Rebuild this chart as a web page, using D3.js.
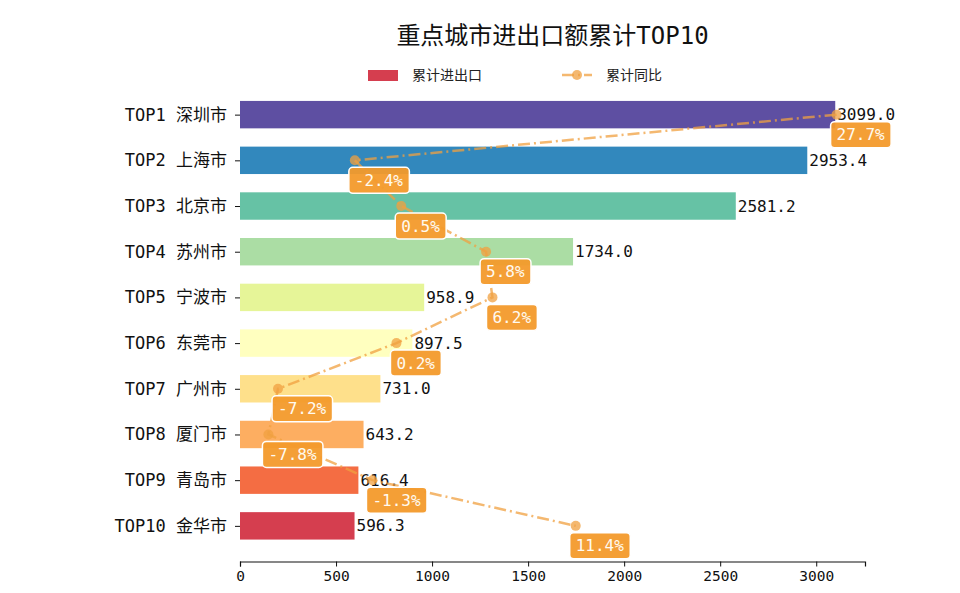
<!DOCTYPE html>
<html>
<head>
<meta charset="utf-8">
<script src="https://cdn.jsdelivr.net/npm/d3@7"></script>
<style>
  body { margin: 0; background: #fff; }
  text { font-family: 'DejaVu Sans Mono', 'Noto Sans CJK SC', sans-serif; }
</style>
</head>
<body>
<div id="chart"></div>
<script>
const ranks = ['TOP1', 'TOP2', 'TOP3', 'TOP4', 'TOP5', 'TOP6', 'TOP7', 'TOP8', 'TOP9', 'TOP10'];
const cities = ['深圳市', '上海市', '北京市', '苏州市', '宁波市', '东莞市', '广州市', '厦门市', '青岛市', '金华市'];
const totals = [3099.0, 2953.4, 2581.2, 1734.0, 958.9, 897.5, 731.0, 643.2, 616.4, 596.3];
const growth = [27.7, -2.4, 0.5, 5.8, 6.2, 0.2, -7.2, -7.8, -1.3, 11.4];
const barColors = ['#5e4fa2', '#3288bd', '#66c2a5', '#abdda4', '#e6f598', '#ffffbf', '#fee08b', '#fdae61', '#f46d43', '#d53e4f'];
const xTicks = [0, 500, 1000, 1500, 2000, 2500, 3000];

const width = 960, height = 593;
const plot = { left: 240, right: 865, top: 79, bottom: 561.5 };
const lineColor = '#f0a040';
const monoCjk = "'DejaVu Sans Mono', 'Noto Sans CJK SC', sans-serif";

const svg = d3.select('#chart').append('svg')
    .attr('width', width)
    .attr('height', height);

const idx = d3.range(ranks.length);

// primary x for bars, hidden twin x for the growth line
const x = d3.scaleLinear().domain([0, d3.max(totals) * 1.05]).range([plot.left, plot.right]);
const gMin = d3.min(growth), gMax = d3.max(growth), gPad = (gMax - gMin) * 0.05;
const x2 = d3.scaleLinear().domain([gMin - gPad, gMax + gPad]).range([plot.left, plot.right]);
const y = d3.scaleLinear().domain([-0.78, 9.78]).range([plot.top, plot.bottom]);
const barH = y(0.6) - y(0);

// title
svg.append('text')
    .attr('x', (plot.left + plot.right) / 2)
    .attr('y', 37)
    .attr('text-anchor', 'middle')
    .attr('dominant-baseline', 'middle')
    .attr('font-size', 24)
    .attr('fill', '#111')
    .text('重点城市进出口额累计TOP10');

// legend
const lg = svg.append('g');
lg.append('rect').attr('x', 368).attr('y', 70).attr('width', 30).attr('height', 11).attr('fill', '#d53e4f');
lg.append('text').attr('x', 412).attr('y', 76).attr('dominant-baseline', 'middle')
    .attr('font-size', 14).attr('fill', '#222').text('累计进出口');
lg.append('line').attr('x1', 562).attr('x2', 592).attr('y1', 75).attr('y2', 75)
    .attr('stroke', lineColor).attr('stroke-opacity', 0.75).attr('stroke-width', 2.5)
    .attr('stroke-dasharray', '12,4,2,4');
lg.append('circle').attr('cx', 577).attr('cy', 75).attr('r', 5)
    .attr('fill', lineColor).attr('fill-opacity', 0.75);
lg.append('text').attr('x', 606).attr('y', 76).attr('dominant-baseline', 'middle')
    .attr('font-size', 14).attr('fill', '#222').text('累计同比');

// bars
svg.append('g').selectAll('rect')
    .data(idx)
    .join('rect')
    .attr('x', x(0))
    .attr('y', i => y(i) - barH / 2)
    .attr('width', i => x(totals[i]) - x(0))
    .attr('height', barH)
    .attr('fill', i => barColors[i]);

// value labels
svg.append('g').selectAll('text')
    .data(idx)
    .join('text')
    .attr('x', i => x(totals[i]) + 2)
    .attr('y', i => y(i) + 1)
    .attr('dominant-baseline', 'middle')
    .attr('font-size', 16)
    .attr('fill', '#111')
    .text(i => totals[i].toFixed(1));

// axes
const xAxis = svg.append('g')
    .attr('transform', `translate(0,${plot.bottom})`)
    .call(d3.axisBottom(x).tickValues(xTicks).tickSize(5).tickPadding(4).tickFormat(d3.format('d')));
xAxis.select('.domain').attr('stroke', '#111').attr('stroke-width', 1.2);
xAxis.selectAll('.tick line').attr('stroke', '#111');
xAxis.selectAll('.tick text').attr('font-size', 14.5).attr('fill', '#111')
    .style('font-family', monoCjk);

const yAxis = svg.append('g')
    .attr('transform', `translate(${plot.left},0)`)
    .call(d3.axisLeft(y).tickValues(idx).tickSize(5).tickPadding(8).tickFormat(i => `${ranks[i]} ${cities[i]}`));
yAxis.select('.domain').remove();
yAxis.selectAll('.tick line').attr('stroke', '#111');
yAxis.selectAll('.tick text').attr('font-size', 17).attr('fill', '#111')
    .style('font-family', monoCjk);

// growth line
const line = d3.line().x(i => x2(growth[i])).y(i => y(i));
svg.append('path')
    .datum(idx)
    .attr('d', line)
    .attr('fill', 'none')
    .attr('stroke', lineColor)
    .attr('stroke-opacity', 0.75)
    .attr('stroke-width', 2.5)
    .attr('stroke-dasharray', '12,4,2,4');

svg.append('g').selectAll('circle')
    .data(idx)
    .join('circle')
    .attr('cx', i => x2(growth[i]))
    .attr('cy', i => y(i))
    .attr('r', 5)
    .attr('fill', lineColor)
    .attr('fill-opacity', 0.75);

// growth labels
const tags = svg.append('g').selectAll('g')
    .data(idx)
    .join('g')
    .attr('transform', i => `translate(${x2(growth[i])},${y(i) + 20})`);

tags.append('text')
    .attr('x', 0)
    .attr('y', 1)
    .attr('dominant-baseline', 'middle')
    .attr('font-size', 16)
    .attr('fill', '#fffaf0')
    .text(i => growth[i].toFixed(1) + '%');

tags.each(function() {
    const g = d3.select(this);
    const bb = g.select('text').node().getBBox();
    g.insert('rect', 'text')
        .attr('x', bb.x - 6)
        .attr('y', -13)
        .attr('width', bb.width + 12)
        .attr('height', 26)
        .attr('rx', 4)
        .attr('fill', '#f39a2b')
        .attr('fill-opacity', 0.95)
        .attr('stroke', '#fff')
        .attr('stroke-width', 1.5);
});
</script>
</body>
</html>
